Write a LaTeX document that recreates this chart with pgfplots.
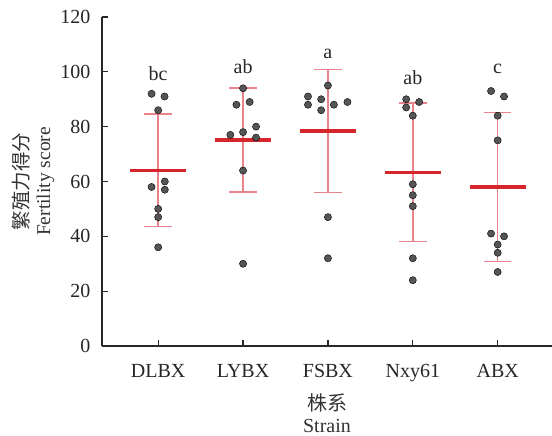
\documentclass[border=0pt]{standalone}
\usepackage{fontspec}
\setmainfont{Liberation Serif}
\newfontfamily\cjk{Noto Sans CJK SC}
\usepackage{pgfplots}
\pgfplotsset{compat=1.18}
\definecolor{meanred}{HTML}{D7262B}
\definecolor{errpink}{HTML}{E8838C}
\definecolor{dotgray}{HTML}{555555}
\begin{document}
\begin{tikzpicture}
\begin{axis}[
  name=ax,
  scale only axis, width=450bp, height=329bp,
  xmin=-0.662, xmax=4.64, ymin=0, ymax=120,
  axis lines=left,
  axis line style={-, line width=1.3bp, black!85},
  xtick={0,1,2,3,4}, xticklabels={DLBX,LYBX,FSBX,\raisebox{2bp}{Nxy61},ABX},
  ytick={0,20,40,60,80,100,120},
  tick align=inside, major tick length=6bp,
  tick style={line width=1.3bp, black!85},
  ticklabel style={font=\fontsize{20bp}{23bp}\selectfont, text=black!85},
  xticklabel style={yshift=-15bp},
  yticklabel style={xshift=-8bp},
  /pgf/number format/assume math mode=true,
  clip=false,
]
% error bars (mean +- SD)
\addplot[draw=none, mark=none, forget plot,
  error bars/.cd, y dir=both, y explicit, error mark=none,
  error bar style={line width=1.4bp, errpink}]
  coordinates {
    (0,64.1) +- (0,20.5)
    (1,75.1) +- (0,19.0)
    (2,78.4) +- (0,22.5)
    (3,63.4) +- (0,25.3)
    (4,58.0) +- (0,27.1)
  };
% caps
\addplot[only marks, mark=-, mark size=13.7bp, mark options={line width=1.4bp, errpink}, forget plot]
  coordinates {
    (0,84.6) (0,43.6)
    (1,94.1) (1,56.1)
    (2,100.9) (2,55.9)
    (3,88.7) (3,38.1)
    (4,85.1) (4,30.9)
  };
% means
\addplot[only marks, mark=-, mark size=28bp, mark options={line width=3.3bp, meanred}, forget plot]
  coordinates {
    (0,64.1) (1,75.1) (2,78.4) (3,63.4) (4,58.0)
  };
% individual points
\addplot[only marks, mark=*, mark size=3.6bp, mark options={draw=none, fill=dotgray}, forget plot]
  coordinates {
    (-0.078,92) (0.075,91) (0,86) (0.078,60) (-0.078,58) (0.078,57) (0,50) (0,47) (0,36)
    (1,94) (0.922,88) (1.078,89) (1.153,80) (0.85,77) (1,78) (1.153,76) (1,64) (1,30)
    (2,95) (1.765,91) (1.92,90) (1.765,88) (2.07,88) (2.23,89) (1.92,86) (2,47) (2,32)
    (2.922,90) (3.075,89) (2.922,87) (3,84) (3,59) (3,55) (3,51) (3,32) (3,24)
    (3.922,93) (4.075,91) (4,84) (4,75) (3.922,41) (4.075,40) (4,37) (4,34) (4,27)
  };
\node[anchor=base, font=\fontsize{20bp}{23bp}\selectfont, text=black!85] at (axis cs:0,96.8) {bc};
\node[anchor=base, font=\fontsize{20bp}{23bp}\selectfont, text=black!85] at (axis cs:1,99.4) {ab};
\node[anchor=base, font=\fontsize{20bp}{23bp}\selectfont, text=black!85] at (axis cs:2,104.9) {a};
\node[anchor=base, font=\fontsize{20bp}{23bp}\selectfont, text=black!85] at (axis cs:3,95.2) {ab};
\node[anchor=base, font=\fontsize{20bp}{23bp}\selectfont, text=black!85] at (axis cs:4,99.4) {c};
\end{axis}
\node[rotate=90, align=center, font=\fontsize{19.5bp}{22bp}\selectfont, text=black!80] at ([xshift=-69bp]ax.west) {{\cjk 繁殖力得分}\\Fertility score};
\node[align=center, font=\fontsize{20bp}{22bp}\selectfont, text=black!80] at ([yshift=-67bp]ax.south) {{\cjk 株系}\\Strain};
\pgfresetboundingbox
\path ([shift={(-102bp,-90bp)}]ax.south west) rectangle ([shift={(0bp,17bp)}]ax.north east);
\end{tikzpicture}
\end{document}
